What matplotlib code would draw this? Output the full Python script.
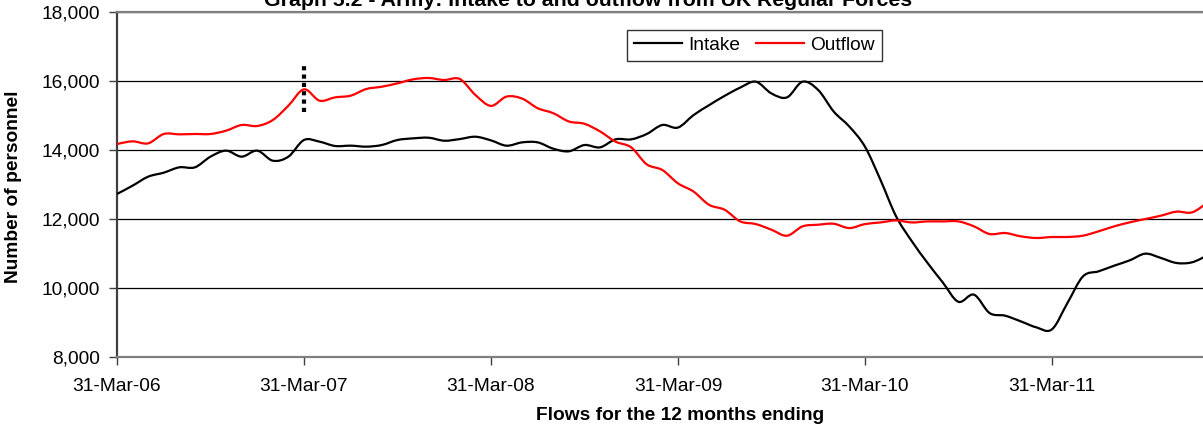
import matplotlib
matplotlib.use("Agg")
import matplotlib.pyplot as plt
import numpy as np
from matplotlib.path import Path
from matplotlib.patches import PathPatch
from matplotlib.lines import Line2D
from matplotlib.ticker import FuncFormatter

plt.rcParams['font.family'] = ['Liberation Sans', 'DejaVu Sans']

# months after 31-Mar-06
months = np.arange(71)
tick_months = [0, 12, 24, 36, 48, 60]
tick_labels = ["31-Mar-06", "31-Mar-07", "31-Mar-08", "31-Mar-09", "31-Mar-10", "31-Mar-11"]

intake = [12725, 12966, 13227, 13343, 13498, 13498, 13807, 13981, 13807, 13981,
          13690, 13807, 14290, 14241, 14116, 14126, 14097, 14145, 14290, 14337,
          14356, 14269, 14317, 14385, 14279, 14125, 14221, 14221, 14038, 13962,
          14144, 14077, 14309, 14309, 14464, 14725, 14650, 15011, 15300, 15570,
          15810, 15980, 15640, 15525, 15980, 15740, 15114, 14680, 14100, 13133,
          12080, 11364, 10739, 10160, 9600, 9807, 9275, 9198, 9034, 8860,
          8800, 9565, 10338, 10483, 10647, 10802, 10995, 10870, 10725, 10745, 10950]

outflow = [14174, 14251, 14193, 14464, 14454, 14464, 14464, 14560, 14725, 14696,
           14869, 15285, 15758, 15430, 15526, 15575, 15768, 15835, 15932, 16048,
           16087, 16029, 16058, 15596, 15279, 15548, 15490, 15211, 15067, 14827,
           14760, 14539, 14241, 14077, 13584, 13420, 13034, 12796, 12411, 12267,
           11930, 11853, 11690, 11516, 11786, 11834, 11862, 11737, 11853, 11900,
           11958, 11900, 11930, 11930, 11930, 11787, 11565, 11594, 11498, 11449,
           11478, 11478, 11517, 11643, 11787, 11903, 12000, 12097, 12213, 12193, 12480]

# dotted marker at the series break (31-Mar-07)
break_month = 12
break_range = (15100, 16450)


def smooth_path(x, y):
    # excel style smoothed line (catmull-rom -> bezier)
    n = len(x)
    verts = [(x[0], y[0])]
    codes = [Path.MOVETO]
    for i in range(n - 1):
        a = max(i - 1, 0)
        d = min(i + 2, n - 1)
        c1 = (x[i] + (x[i + 1] - x[a]) / 6.0, y[i] + (y[i + 1] - y[a]) / 6.0)
        c2 = (x[i + 1] - (x[d] - x[i]) / 6.0, y[i + 1] - (y[d] - y[i]) / 6.0)
        verts += [c1, c2, (x[i + 1], y[i + 1])]
        codes += [Path.CURVE4] * 3
    return Path(verts, codes)


fs = 13.8
fig = plt.figure(figsize=(12.03, 4.25), dpi=100)
ax = fig.add_axes([117 / 1203, 68 / 425, 1 - 117 / 1203, 345 / 425])

for vals, col in [(intake, "black"), (outflow, "red")]:
    ax.add_patch(PathPatch(smooth_path(months, vals), facecolor="none",
                           edgecolor=col, lw=1.6, zorder=3))

ax.vlines(break_month, break_range[0], break_range[1], colors="black",
          linestyles=(0, (1, 1)), lw=3, zorder=4)

ax.set_xlim(0, 69.7)
ax.set_ylim(8000, 18000)
ax.set_yticks(np.arange(8000, 18001, 2000))
ax.yaxis.set_major_formatter(FuncFormatter(lambda v, p: f"{int(v):,}"))
ax.set_xticks(tick_months)
ax.set_xticklabels(tick_labels)
ax.tick_params(axis="both", labelsize=fs, direction="out", length=6, width=1, colors="#404040",
               labelcolor="black")
ax.tick_params(axis="x", pad=9)
ax.tick_params(axis="y", pad=6)
ax.grid(axis="y", color="black", lw=0.9)
ax.set_axisbelow(True)

ax.spines["right"].set_visible(False)
ax.spines["top"].set_color("#808080")
ax.spines["top"].set_linewidth(1.6)
ax.spines["bottom"].set_color("#808080")
ax.spines["bottom"].set_linewidth(1.6)
ax.spines["left"].set_color("#404040")
ax.spines["left"].set_linewidth(1.6)

fig.text(14 / 1203, 1 - 187 / 425, "Number of personnel", rotation=90, fontsize=fs,
         fontweight="bold", ha="center", va="center")
fig.text(680 / 1203, 1 - 415 / 425, "Flows for the 12 months ending", fontsize=fs,
         fontweight="bold", ha="center", va="center")
fig.text(588 / 1203, 1 - 6 / 425, "Graph 5.2 - Army: Intake to and outflow from UK Regular Forces",
         fontsize=15.3, fontweight="bold", ha="center", va="baseline")

handles = [Line2D([], [], color="black", lw=1.6), Line2D([], [], color="red", lw=1.6)]
leg = fig.legend(handles, ["Intake", "Outflow"], loc="upper left",
                 bbox_to_anchor=(627 / 1203, 1 - 30 / 425), ncol=2, fontsize=fs,
                 frameon=True, fancybox=False, shadow=False, borderaxespad=0,
                 handlelength=2.5, handletextpad=0.35, columnspacing=0.8, borderpad=0.35)
leg.get_frame().set_edgecolor("black")
leg.get_frame().set_linewidth(1)

fig.savefig("out.png", dpi=100)
